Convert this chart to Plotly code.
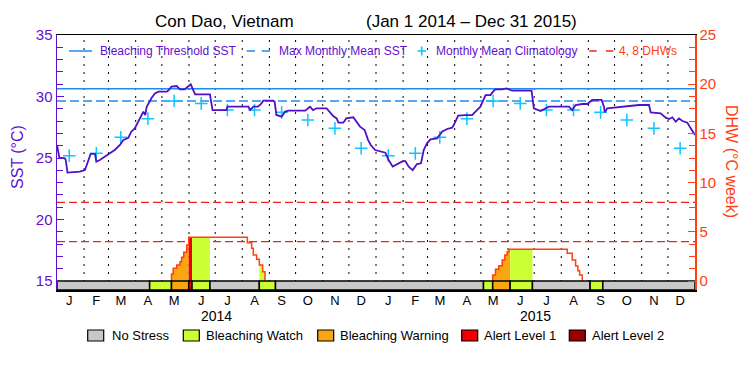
import pandas as pd
import plotly.graph_objects as go

# ---------------- data ----------------
START = pd.Timestamp("2014-01-01")
END = pd.Timestamp("2016-01-01")

TITLE_SITE = "Con Dao, Vietnam"
TITLE_PERIOD = "(Jan 1 2014 – Dec 31 2015)"
MONTH_LETTERS = ["J", "F", "M", "A", "M", "J", "J", "A", "S", "O", "N", "D"]
YEARS = ["2014", "2015"]

# SST (days since 2014-01-01, degC)
SST_DAYS = [0, 2.7, 9, 10, 12, 26, 32, 38.5, 43.5, 45, 49, 55, 60.6, 66, 72, 76, 81.6, 85, 89, 93,
            97, 98.8, 101, 102.6, 108, 112, 116, 125.5, 127, 131, 137, 140.7, 146, 151, 153, 155, 158,
            175, 178, 194, 195, 219, 221, 224.6, 230, 234, 236, 247.5, 249, 251, 257, 261, 265, 284,
            289.5, 293, 297, 308.5, 312, 316, 320, 322, 327.6, 331, 339, 343, 346.7, 352, 356, 359, 364,
            375.7, 379.5, 384.1, 387.1, 394.7, 398.5, 402.4, 407, 411.9, 416.5, 419.6, 423.4, 427.3,
            434.9, 440.6, 446.4, 452.1, 454, 459, 467.4, 475, 478.8, 484.5, 490.3, 496, 499.8, 501.7,
            509.4, 514.3, 520.8, 543, 545.6, 553.3, 562.8, 585.7, 589.5, 593.4, 601, 606.7, 612.4,
            623.1, 625.8, 626.9, 629.6, 643, 665.9, 677.4, 679.3, 690.7, 696.4, 700.3, 704.1, 707.9,
            711.7, 715.6, 721.3, 725.1, 730]
SST_VALUES = [26.06, 25.03, 24.97, 24.84, 23.81, 23.89, 24.02, 25.33, 25.33, 24.70, 24.84, 25.11, 25.38,
              25.65, 26.06, 26.46, 26.65, 27.14, 27.41, 27.95, 28.55, 28.77, 28.49, 29.17, 29.85, 30.25,
              30.39, 30.39, 30.47, 30.80, 30.85, 30.58, 30.58, 30.93, 30.99, 30.66, 30.18, 30.18, 28.90,
              28.90, 29.17, 29.17, 28.90, 29.17, 29.17, 29.44, 29.66, 29.66, 29.58, 28.50, 28.36, 28.77,
              28.85, 28.85, 29.17, 28.90, 29.04, 29.04, 28.77, 28.41, 28.22, 27.87, 27.87, 28.22, 28.31,
              27.95, 27.55, 27.28, 26.46, 26.06, 25.65,
              25.43, 24.84, 24.30, 24.43, 24.70, 24.76, 24.30, 24.02, 24.51, 24.57, 25.65, 26.19, 26.52,
              26.60, 27.14, 27.36, 27.47, 27.68, 28.44, 28.49, 28.49, 28.77, 29.17, 30.12, 30.12, 30.47,
              30.58, 30.58, 30.66, 30.47, 30.47, 29.04, 28.82, 29.17, 29.17, 28.90, 29.31, 29.39, 29.39,
              29.72, 29.72, 29.17, 28.71, 29.04, 29.12, 29.31, 29.31, 28.71, 28.63, 28.28, 28.17, 28.31,
              27.95, 28.22, 28.01, 27.87, 27.41, 26.87]

# Monthly mean climatology (Jan..Dec, degC)
CLIM_MONTHLY = [25.19, 25.38, 26.68, 28.20, 29.63, 29.44, 28.90, 28.90, 28.71, 28.09, 27.41, 25.79]
MMM = 29.63
BLEACHING_THRESHOLD = 30.63
DHW_LEVELS = [4, 8]

# Degree heating weeks (days since 2014-01-01, degC-weeks)
DHW_DAYS = [131, 131, 133, 137, 140.7, 142.6, 145, 148.4, 150.7, 217.8, 222.7, 224.6, 228.4, 231.5,
            235.3, 238,
            498.5, 498.5, 501.7, 505.5, 509.4, 512.4, 515.1, 517, 583.8, 589.5, 593.4, 596, 598, 601]
DHW_VALUES = [0, 0.71, 1.29, 1.63, 1.96, 2.41, 2.92, 3.66, 4.44, 3.89, 3.32, 2.64, 2.2, 1.63, 0.95, 0,
              0, 0.61, 1.19, 1.56, 2.13, 2.64, 2.98, 3.22, 2.81, 2.13, 1.52, 1.05, 0.61, 0]

# Stress level periods (start day since 2014-01-01, level index)
STRESS_STARTS = [0, 106, 131, 150.7, 154.5, 175, 231.5, 250, 488, 498.5, 518.5, 544, 610, 624.5]
STRESS_LEVELS = [0, 1, 2, 3, 1, 0, 1, 0, 1, 2, 1, 0, 1, 0]
STRESS_NAMES = ["No Stress", "Bleaching Watch", "Bleaching Warning", "Alert Level 1", "Alert Level 2"]
STRESS_COLORS = ["#C8C8C8", "#CCFF33", "#FAA512", "#EE0000", "#990000"]

# ---------------- styles ----------------
FONT = "Liberation Sans, Arial, sans-serif"
PURPLE = "#5F10D0"
SST_COLOR = "#5010C8"
BLUE = "#1E8CF0"
CYAN = "#10C4FF"
ORANGE = "#FF4010"
RED_DASH = "#F02020"
Y_RANGE = [14.27, 35]
Y2_RANGE = [-0.915, 25]

W, H = 750, 375
ML, MR, MT, MB = 57, 55, 35, 85
PW, PH = W - ML - MR, H - MT - MB


def px(xp):
    return (xp - ML) / PW


def py(yp):
    return (H - MB - yp) / PH


def day_to_date(d):
    return START + pd.to_timedelta(d, unit="D")


total_days = (END - START).days
month_starts = pd.date_range(START, END - pd.Timedelta(days=1), freq="MS")
mid_months = month_starts + pd.Timedelta(days=14)

fig = go.Figure()

# thresholds
fig.add_trace(go.Scatter(x=[START, END], y=[BLEACHING_THRESHOLD] * 2, mode="lines",
                         line=dict(color=BLUE, width=1.5), showlegend=False, hoverinfo="skip"))
fig.add_trace(go.Scatter(x=[START, END], y=[MMM] * 2, mode="lines",
                         line=dict(color=BLUE, width=1.5, dash="9px,4px"), showlegend=False,
                         hoverinfo="skip"))

# climatology crosses
clim_y = CLIM_MONTHLY * len(YEARS)
fig.add_trace(go.Scatter(x=list(mid_months), y=clim_y, mode="markers",
                         marker=dict(symbol="cross-thin-open", size=9, color=CYAN,
                                     line=dict(color=CYAN, width=1.5)),
                         showlegend=False))

# SST
fig.add_trace(go.Scatter(x=[day_to_date(d) for d in SST_DAYS], y=SST_VALUES, mode="lines",
                         line=dict(color=SST_COLOR, width=1.8), showlegend=False))

# DHW 4/8 lines
for lv in DHW_LEVELS:
    fig.add_trace(go.Scatter(x=[START, END], y=[lv, lv], mode="lines", yaxis="y2",
                             line=dict(color=RED_DASH, width=1.3, dash="8px,4px"),
                             showlegend=False, hoverinfo="skip"))


# DHW fills coloured by stress level
def dhw_at(t):
    v = 0
    for d, val in zip(DHW_DAYS, DHW_VALUES):
        if d <= t:
            v = val
    return v


stress_ends = STRESS_STARTS[1:] + [total_days]
for s, e, lvl in zip(STRESS_STARTS, stress_ends, STRESS_LEVELS):
    if lvl == 0:
        continue
    xs = [s] + [d for d in DHW_DAYS if s < d < e] + [e]
    seen = []
    for x in xs:
        if x not in seen:
            seen.append(x)
    ys = [dhw_at(x) for x in seen]
    fig.add_trace(go.Scatter(x=[day_to_date(x) for x in seen], y=ys, yaxis="y2", mode="lines",
                             line=dict(width=0, shape="hv"), fill="tozeroy",
                             fillcolor=STRESS_COLORS[lvl], showlegend=False, hoverinfo="skip"))

# DHW line (break where it lies on zero between events)
lx, ly = [], []
for i, (d, v) in enumerate(zip(DHW_DAYS, DHW_VALUES)):
    if i > 0 and v == 0 and DHW_VALUES[i - 1] == 0 and DHW_DAYS[i] != DHW_DAYS[i - 1]:
        lx.append(None)
        ly.append(None)
    lx.append(day_to_date(d))
    ly.append(v)
fig.add_trace(go.Scatter(x=lx, y=ly, yaxis="y2", mode="lines",
                         line=dict(color=ORANGE, width=1.5, shape="hv"),
                         connectgaps=False, showlegend=False))

# stress bar
bar_x = [day_to_date(s) for s in STRESS_STARTS]
bar_w = [(e - s) * 86400000 for s, e in zip(STRESS_STARTS, stress_ends)]
fig.add_trace(go.Bar(x=bar_x, y=[0 - Y2_RANGE[0]] * len(STRESS_STARTS), base=Y2_RANGE[0],
                     width=bar_w, offset=0, yaxis="y3",
                     marker=dict(color=[STRESS_COLORS[l] for l in STRESS_LEVELS],
                                 line=dict(color="black", width=1.5)),
                     showlegend=False, hoverinfo="skip"))

annotations = []
shapes = []

# month boundary dotted grid
for d in month_starts[1:]:
    shapes.append(dict(type="line", xref="x", yref="paper", x0=d, x1=d, y0=0, y1=1, layer="below",
                       line=dict(color="black", width=1, dash="2px,6px")))

# title
annotations.append(dict(text=TITLE_SITE, x=px(153), y=py(22), xref="paper", yref="paper",
                        xanchor="left", yanchor="middle", showarrow=False,
                        font=dict(size=17, color="black", family=FONT)))
annotations.append(dict(text=TITLE_PERIOD, x=px(471), y=py(22), xref="paper", yref="paper",
                        xanchor="center", yanchor="middle", showarrow=False,
                        font=dict(size=17, color="black", family=FONT)))

# axis titles
annotations.append(dict(text="SST (°C)", x=px(17), y=py(157), xref="paper", yref="paper",
                        textangle=-90, showarrow=False, xanchor="center", yanchor="middle",
                        font=dict(size=16, color=PURPLE, family=FONT)))
annotations.append(dict(text="DHW (°C week)", x=px(732), y=py(161), xref="paper", yref="paper",
                        textangle=90, showarrow=False, xanchor="center", yanchor="middle",
                        font=dict(size=16, color=ORANGE, family=FONT)))

# years
for i, yr in enumerate(YEARS):
    annotations.append(dict(text=yr, x=pd.Timestamp(f"{yr}-07-03"), y=py(316), xref="x", yref="paper",
                            showarrow=False, xanchor="center", yanchor="middle",
                            font=dict(size=14, color="black", family=FONT)))

# top legend
LY = 51
shapes.append(dict(type="line", xref="paper", yref="paper", x0=px(69), x1=px(92), y0=py(LY), y1=py(LY),
                   line=dict(color=BLUE, width=1.5)))
annotations.append(dict(text="Bleaching Threshold SST", x=px(98), y=py(LY), xref="paper", yref="paper",
                        xanchor="left", yanchor="middle", showarrow=False,
                        font=dict(size=12, color=PURPLE, family=FONT)))
for a, b in [(246.7, 255), (261.7, 270)]:
    shapes.append(dict(type="line", xref="paper", yref="paper", x0=px(a), x1=px(b), y0=py(LY),
                       y1=py(LY), line=dict(color=BLUE, width=1.5)))
annotations.append(dict(text="Max Monthly Mean SST", x=px(276.5), y=py(LY), xref="paper", yref="paper",
                        xanchor="left", yanchor="middle", showarrow=False,
                        font=dict(size=12, color=PURPLE, family=FONT)))
shapes.append(dict(type="line", xref="paper", yref="paper", x0=px(417.5), x1=px(426), y0=py(LY),
                   y1=py(LY), line=dict(color=CYAN, width=1.6)))
shapes.append(dict(type="line", xref="paper", yref="paper", x0=px(421.7), x1=px(421.7), y0=py(LY - 4.5),
                   y1=py(LY + 4.5), line=dict(color=CYAN, width=1.6)))
annotations.append(dict(text="Monthly Mean Climatology", x=px(434), y=py(LY), xref="paper", yref="paper",
                        xanchor="left", yanchor="middle", showarrow=False,
                        font=dict(size=12, color=PURPLE, family=FONT)))
for a, b in [(589.3, 596.7), (606, 613.3)]:
    shapes.append(dict(type="line", xref="paper", yref="paper", x0=px(a), x1=px(b), y0=py(LY),
                       y1=py(LY), line=dict(color=RED_DASH, width=1.5)))
annotations.append(dict(text="4, 8 DHWs", x=px(617), y=py(LY), xref="paper", yref="paper",
                        xanchor="left", yanchor="middle", showarrow=False,
                        font=dict(size=12, color=ORANGE, family=FONT)))

# bottom legend
BOX_X = [87.7, 183.3, 317.7, 461.7, 569.3]
TXT_X = [110, 204, 338, 481.7, 590]
for i, name in enumerate(STRESS_NAMES):
    shapes.append(dict(type="rect", xref="paper", yref="paper", x0=px(BOX_X[i]), x1=px(BOX_X[i] + 16),
                       y0=py(341), y1=py(330), fillcolor=STRESS_COLORS[i],
                       line=dict(color="black", width=1.2)))
    annotations.append(dict(text=name, x=px(TXT_X[i]), y=py(335.5), xref="paper", yref="paper",
                            xanchor="left", yanchor="middle", showarrow=False,
                            font=dict(size=13, color="black", family=FONT)))

fig.update_layout(
    width=W, height=H,
    margin=dict(l=ML, r=MR, t=MT, b=MB),
    paper_bgcolor="white", plot_bgcolor="white",
    font=dict(family=FONT),
    showlegend=False,
    bargap=0,
    hovermode=False,
    annotations=annotations,
    shapes=shapes,
    xaxis=dict(type="date", range=[START, END], tickmode="array", tickvals=list(mid_months),
               ticktext=MONTH_LETTERS * len(YEARS), ticks="", showgrid=False, zeroline=False,
               showline=True, linecolor="black", linewidth=1.5, mirror=True,
               ticklabelstandoff=-2,
               tickfont=dict(size=13, color="black", family=FONT)),
    yaxis=dict(range=Y_RANGE, tickmode="array", tickvals=[15, 20, 25, 30, 35], ticks="inside",
               ticklen=7, tickcolor=PURPLE, tickwidth=1, showgrid=False, zeroline=False,
               showline=True, linecolor=PURPLE, linewidth=1.5,
               tickfont=dict(size=15, color=PURPLE, family=FONT),
               minor=dict(tickmode="linear", tick0=15, dtick=1, ticks="inside", ticklen=6,
                          tickcolor=PURPLE, showgrid=False)),
    yaxis2=dict(range=Y2_RANGE, overlaying="y", side="right", tickmode="array",
                tickvals=[0, 5, 10, 15, 20, 25], ticks="inside", ticklen=7, tickcolor=ORANGE,
                showgrid=False, zeroline=False, showline=True, linecolor=ORANGE, linewidth=1.5,
                tickfont=dict(size=15, color=ORANGE, family=FONT),
                minor=dict(tickmode="linear", tick0=0, dtick=1.25, ticks="inside", ticklen=6,
                           tickcolor=ORANGE, showgrid=False)),
    yaxis3=dict(range=Y2_RANGE, overlaying="y", visible=False, showgrid=False, zeroline=False),
)

fig.write_html("out.html", config={"displayModeBar": False, "staticPlot": True},
               post_script="document.body.style.margin='0';document.body.style.overflow='hidden';")
